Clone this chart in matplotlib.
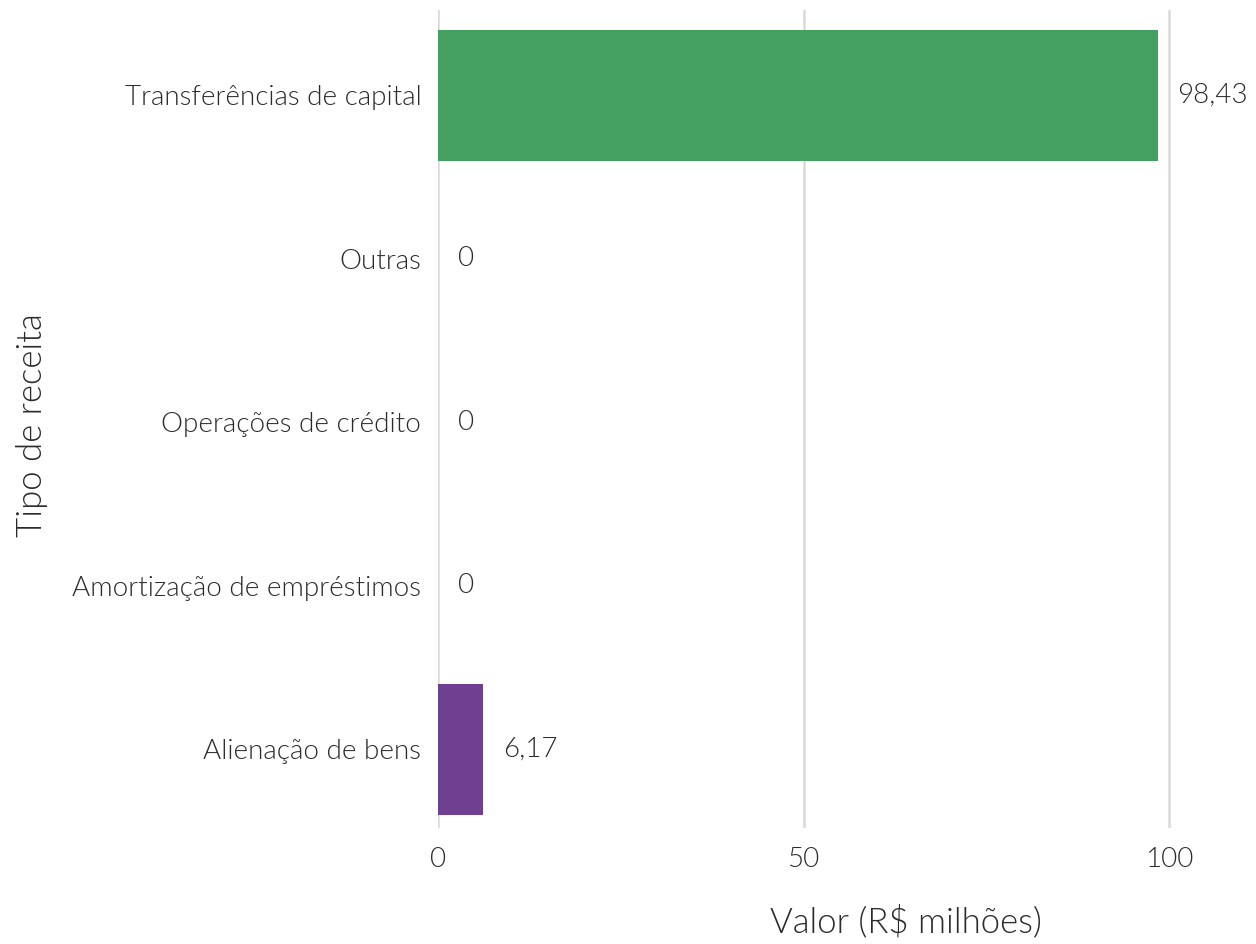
import matplotlib
matplotlib.use("Agg")
import matplotlib.pyplot as plt

plt.rcParams['font.family'] = ['Lato', 'DejaVu Sans']
plt.rcParams['font.weight'] = 300
plt.rcParams['axes.labelweight'] = 300

# Dados: receitas de capital por tipo (R$ milhões)
categorias = ["Alienação de bens", "Amortização de empréstimos",
              "Operações de crédito", "Outras", "Transferências de capital"]
valores = [6.17, 0, 0, 0, 98.43]
rotulos = ["6,17", "0", "0", "0", "98,43"]
cores = ["#6f3f91", "#b9bec9", "#b9bec9", "#b8c8d0", "#43a061"]

fig = plt.figure(figsize=(12.56, 9.44), dpi=100)
ax = fig.add_axes([438 / 1256, (944 - 828) / 944, (1256 - 438) / 1256, (828 - 10) / 944])

ax.barh(range(len(categorias)), valores, height=0.8, color=cores, zorder=2)
for i, (v, txt) in enumerate(zip(valores, rotulos)):
    ax.text(v + 2.7, i, txt, va='center', ha='left', fontsize=20,
            color='#2b2b2b', fontweight=300)

ax.set_xlim(0, 111.9)
ax.set_ylim(-0.48, 4.52)
ax.set_xticks([0, 50, 100])
ax.set_yticks(range(len(categorias)))
ax.set_yticklabels(categorias)
for lab in ax.get_xticklabels() + ax.get_yticklabels():
    lab.set_fontweight(300)
ax.tick_params(axis='both', length=0, labelsize=20, labelcolor='#2b2b2b')
ax.tick_params(axis='y', pad=12)
ax.tick_params(axis='x', pad=14)
ax.grid(axis='x', color='#d9d9d9', linewidth=1.8, zorder=0)
ax.grid(axis='y', visible=False)
for s in ax.spines.values():
    s.set_visible(False)

ax.set_xlabel("Valor (R$ milhões)", fontsize=25, color='#2b2b2b', fontweight=300)
ax.set_ylabel("Tipo de receita", fontsize=25, color='#2b2b2b', fontweight=300)
ax.xaxis.set_label_coords(0.572, -0.093)
ax.yaxis.set_label_coords(-0.477, 0.493)

fig.savefig("out.png", dpi=100)
